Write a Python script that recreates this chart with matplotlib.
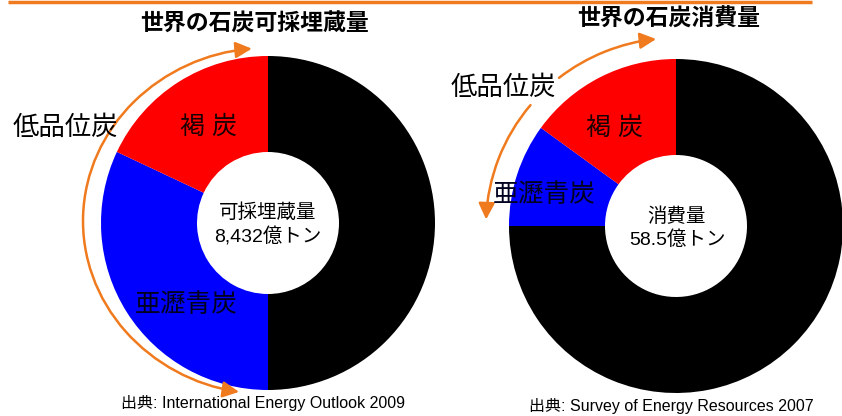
import matplotlib.pyplot as plt
from matplotlib.patches import FancyArrowPatch
from matplotlib.path import Path
from matplotlib.transforms import Affine2D

plt.rcParams['font.family'] = ['Liberation Sans', 'Noto Sans CJK JP', 'DejaVu Sans']

W, H = 842, 416

# share of each coal grade (%), clockwise from 12 o'clock
coal_types = ['瀝青炭', '亜瀝青炭', '褐炭']
reserve_share = [50, 32, 18]
consumption_share = [75, 10, 15]
slice_colors = ['#000000', '#0000ff', '#ff0000']

reserve_total = '8,432億トン'
consumption_total = '58.5億トン'

ORANGE = '#f07a1e'

fig = plt.figure(figsize=(W / 100, H / 100), dpi=100)
ax = fig.add_axes([0, 0, 1, 1])


def donut(cx, cy, shares):
    ax.pie(shares, colors=slice_colors, startangle=90, counterclock=False,
           radius=167, center=(cx, H - cy),
           wedgeprops=dict(width=96, linewidth=0))


def arc_arrow(cx, cy, rx, ry, a0, a1, style):
    path = Path.arc(a0, a1).transformed(
        Affine2D().scale(rx, ry).translate(cx, H - cy))
    ax.add_patch(FancyArrowPatch(path=path, arrowstyle=style,
                                 mutation_scale=14, color=ORANGE, lw=1.8))


def txt(x, y, s, size, **kw):
    ax.text(x, H - y, s, fontsize=size, ha='center', va='center', **kw)


donut(268, 223, reserve_share)
donut(676, 226, consumption_share)
ax.set_xlim(0, W)
ax.set_ylim(0, H)
ax.set_aspect('equal')
ax.set_axis_off()

# orange rule along the top
ax.plot([8, 812], [H - 1.5, H - 1.5], color=ORANGE, lw=2.5, solid_capstyle='butt')

# titles
txt(255, 24, '世界の石炭可採埋蔵量', 16.5, fontweight='bold')
txt(669, 19, '世界の石炭消費量', 16.5, fontweight='bold')

# low-grade coal arrows
arc_arrow(268, 221, 185, 173, 95, 261, '<|-|>,head_length=0.7,head_width=0.35')
arc_arrow(676, 226, 190, 188, 96, 128, '<|-,head_length=0.7,head_width=0.35')
arc_arrow(676, 226, 190, 188, 140, 178, '-|>,head_length=0.7,head_width=0.35')
txt(65, 128, '低品位炭', 19)
txt(503, 88, '低品位炭', 19)

# slice labels
txt(208, 127, '褐 炭', 18, color='#1a0000')
txt(186, 305, '亜瀝青炭', 18.5, color='#000020')
txt(614, 128, '褐 炭', 18, color='#1a0000')
txt(544, 195, '亜瀝青炭', 18.5, color='#000020')

# centre totals
txt(268, 213, '可採埋蔵量', 14)
txt(268, 237, reserve_total, 14)
txt(677, 217, '消費量', 14)
txt(677, 240, consumption_total, 14)

# sources
txt(263, 403, '出典: International Energy Outlook 2009', 11.5)
txt(671, 406, '出典: Survey of Energy Resources 2007', 11.5)

fig.savefig('out.png', dpi=100, facecolor='white')
